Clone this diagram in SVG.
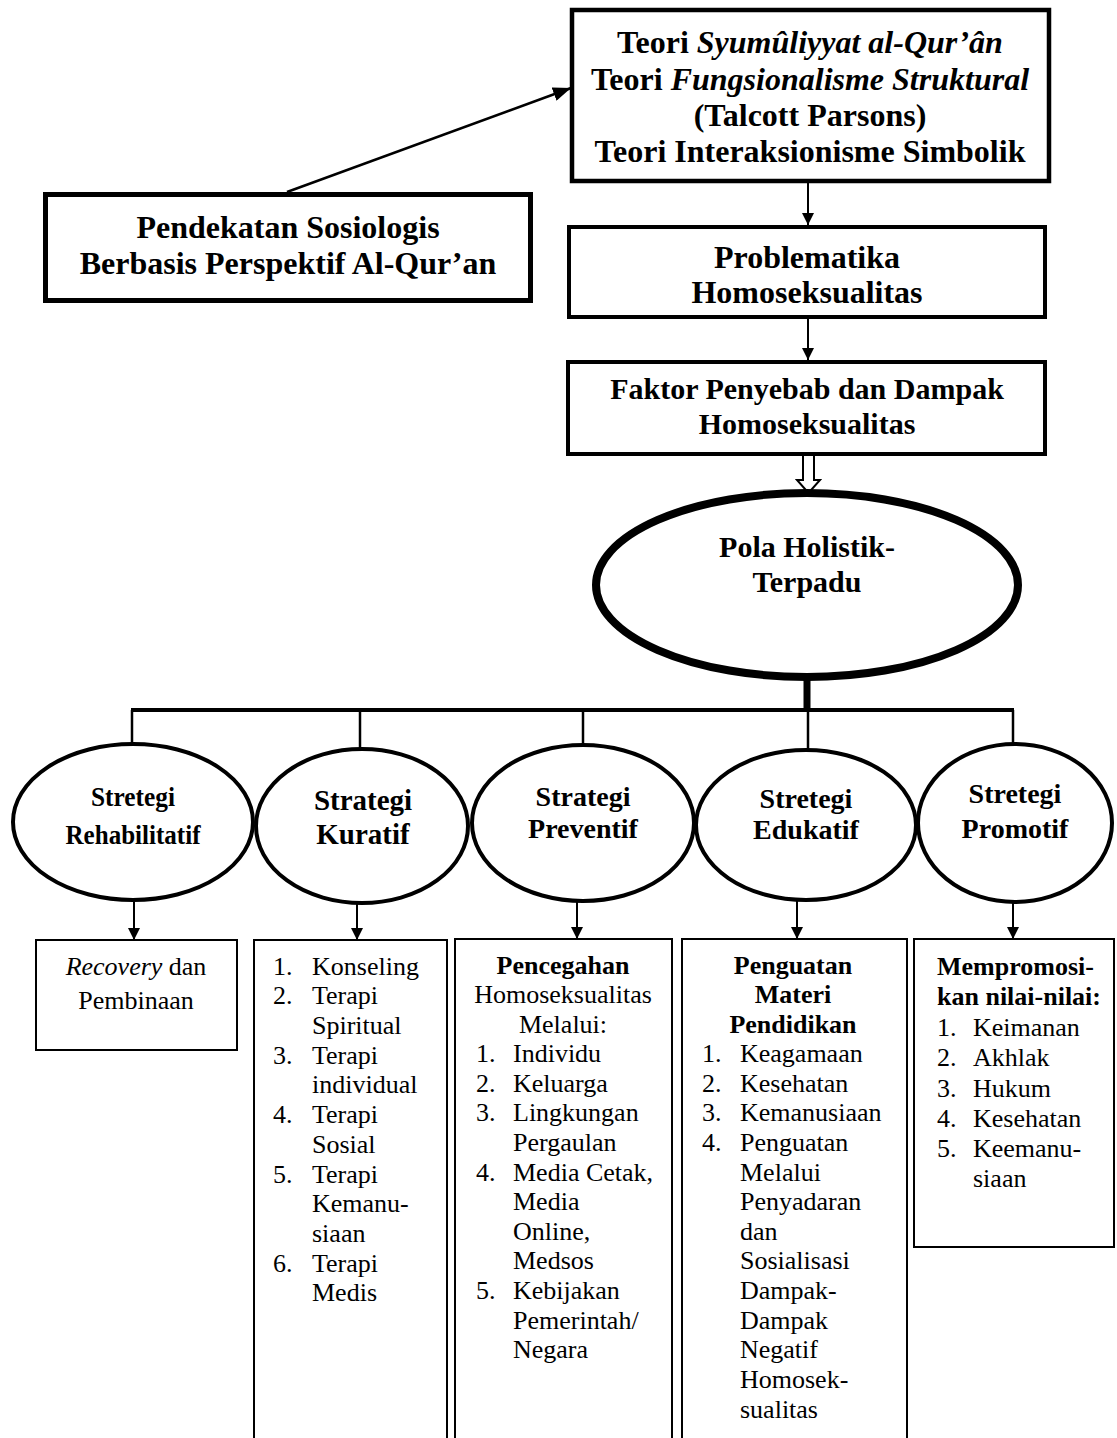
<svg xmlns="http://www.w3.org/2000/svg" width="1117" height="1438" viewBox="0 0 1117 1438">
<style>
.b{font-family:"Liberation Serif","Times New Roman",serif;font-weight:bold;fill:#000}
.r{font-family:"Liberation Serif","Times New Roman",serif;fill:#000}
.c{text-anchor:middle}
.i{font-style:italic}
.t32{font-size:32px}
.t30{font-size:30px}
.t28{font-size:28px}
.t29{font-size:29px}
.t26{font-size:26px}
.box{fill:#fff;stroke:#000}
.ln{stroke:#000;fill:none}
</style>
<defs>
<marker id="ah" viewBox="0 0 12 12" refX="12" refY="6" markerWidth="12" markerHeight="12" markerUnits="userSpaceOnUse" orient="auto"><path d="M0,0 L12,6 L0,12 z" fill="#000"/></marker>
<marker id="ahL" viewBox="0 0 18 14" refX="18" refY="7" markerWidth="18" markerHeight="14" markerUnits="userSpaceOnUse" orient="auto"><path d="M0,0 L18,7 L0,14 z" fill="#000"/></marker>
</defs>

<g id="connectors">
<line class="ln" x1="287" y1="192" x2="571" y2="88" stroke-width="2.5" marker-end="url(#ahL)"/>
<line class="ln" x1="808" y1="182" x2="808" y2="225" stroke-width="2" marker-end="url(#ah)"/>
<line class="ln" x1="808" y1="318" x2="808" y2="360" stroke-width="2" marker-end="url(#ah)"/>
<path d="M803,455 V480 H797 L808.5,493 L820,480 H814 V455" fill="#fff" stroke="#000" stroke-width="2"/>
<line class="ln" x1="807" y1="677" x2="807" y2="711" stroke-width="7"/>
<line class="ln" x1="131" y1="710" x2="1014" y2="710" stroke-width="4"/>
<line class="ln" x1="132" y1="710" x2="132" y2="745" stroke-width="2.5"/>
<line class="ln" x1="360" y1="710" x2="360" y2="750" stroke-width="2.5"/>
<line class="ln" x1="583" y1="710" x2="583" y2="746" stroke-width="2.5"/>
<line class="ln" x1="808" y1="710" x2="808" y2="751" stroke-width="2.5"/>
<line class="ln" x1="1013" y1="710" x2="1013" y2="745" stroke-width="2.5"/>
<line class="ln" x1="134" y1="900" x2="134" y2="940" stroke-width="2" marker-end="url(#ah)"/>
<line class="ln" x1="357" y1="903" x2="357" y2="940" stroke-width="2" marker-end="url(#ah)"/>
<line class="ln" x1="577" y1="902" x2="577" y2="939" stroke-width="2" marker-end="url(#ah)"/>
<line class="ln" x1="797" y1="900" x2="797" y2="939" stroke-width="2" marker-end="url(#ah)"/>
<line class="ln" x1="1013" y1="903" x2="1013" y2="939" stroke-width="2" marker-end="url(#ah)"/>
</g>

<g id="teori">
<rect class="box" x="572" y="10" width="477" height="171" stroke-width="4.5"/>
<text class="b t32 c" x="810" y="53">Teori <tspan class="i">Syumûliyyat al-Qur’ân</tspan></text>
<text class="b t32 c" x="810" y="90">Teori <tspan class="i">Fungsionalisme Struktural</tspan></text>
<text class="b t32 c" x="810" y="126">(Talcott Parsons)</text>
<text class="b t32 c" x="810" y="162">Teori Interaksionisme Simbolik</text>
</g>

<g id="pendekatan">
<rect class="box" x="45.5" y="194.5" width="485" height="106" stroke-width="5"/>
<text class="b t32 c" x="288" y="238">Pendekatan Sosiologis</text>
<text class="b t32 c" x="288" y="274">Berbasis Perspektif Al-Qur’an</text>
</g>

<g id="problematika">
<rect class="box" x="569" y="227" width="476" height="90" stroke-width="4"/>
<text class="b t32 c" x="807" y="268">Problematika</text>
<text class="b t32 c" x="807" y="303">Homoseksualitas</text>
</g>

<g id="faktor">
<rect class="box" x="568" y="362" width="477" height="92" stroke-width="4"/>
<text class="b t30 c" x="807" y="399">Faktor Penyebab dan Dampak</text>
<text class="b t30 c" x="807" y="434">Homoseksualitas</text>
</g>

<g id="pola">
<ellipse class="box" cx="807" cy="585" rx="211" ry="92" stroke-width="8"/>
<text class="b t30 c" x="807" y="557">Pola Holistik-</text>
<text class="b t30 c" x="807" y="592">Terpadu</text>
</g>

<g id="s-rehabilitatif">
<ellipse class="box" cx="133" cy="822" rx="120" ry="78" stroke-width="4"/>
<text class="b t28 c" x="133" y="806" textLength="84" lengthAdjust="spacingAndGlyphs">Stretegi</text>
<text class="b t28 c" x="133" y="844" textLength="135" lengthAdjust="spacingAndGlyphs">Rehabilitatif</text>
</g>
<g id="s-kuratif">
<ellipse class="box" cx="362" cy="826" rx="106" ry="77" stroke-width="4"/>
<text class="b t29 c" x="363" y="810">Strategi</text>
<text class="b t29 c" x="363" y="844">Kuratif</text>
</g>
<g id="s-preventif">
<ellipse class="box" cx="583" cy="823" rx="111" ry="78" stroke-width="4"/>
<text class="b t28 c" x="583" y="806">Strategi</text>
<text class="b t28 c" x="583" y="838">Preventif</text>
</g>
<g id="s-edukatif">
<ellipse class="box" cx="806" cy="825" rx="110" ry="75" stroke-width="4"/>
<text class="b t28 c" x="806" y="808">Stretegi</text>
<text class="b t28 c" x="806" y="839">Edukatif</text>
</g>
<g id="s-promotif">
<ellipse class="box" cx="1015" cy="823" rx="97" ry="79" stroke-width="4"/>
<text class="b t28 c" x="1015" y="803">Stretegi</text>
<text class="b t28 c" x="1015" y="838">Promotif</text>
</g>

<g id="b-rehabilitatif">
<rect class="box" x="36" y="940" width="201" height="110" stroke-width="2"/>
<text class="r t26 c" x="136" y="975"><tspan class="i">Recovery</tspan> dan</text>
<text class="r t26 c" x="136" y="1009">Pembinaan</text>
</g>

<g id="b-kuratif" class="r t26">
<rect class="box" x="254" y="940" width="193" height="510" stroke-width="2"/>
<text x="273" y="975">1.</text><text x="312" y="975">Konseling</text>
<text x="273" y="1004">2.</text><text x="312" y="1004">Terapi</text>
<text x="312" y="1034">Spiritual</text>
<text x="273" y="1064">3.</text><text x="312" y="1064">Terapi</text>
<text x="312" y="1093">individual</text>
<text x="273" y="1123">4.</text><text x="312" y="1123">Terapi</text>
<text x="312" y="1153">Sosial</text>
<text x="273" y="1183">5.</text><text x="312" y="1183">Terapi</text>
<text x="312" y="1212">Kemanu-</text>
<text x="312" y="1242">siaan</text>
<text x="273" y="1272">6.</text><text x="312" y="1272">Terapi</text>
<text x="312" y="1301">Medis</text>
</g>

<g id="b-preventif" class="r t26">
<rect class="box" x="455" y="939" width="217" height="511" stroke-width="2"/>
<text class="b c" x="563" y="974">Pencegahan</text>
<text class="c" x="563" y="1003">Homoseksualitas</text>
<text class="c" x="563" y="1033">Melalui:</text>
<text x="476" y="1062">1.</text><text x="513" y="1062">Individu</text>
<text x="476" y="1092">2.</text><text x="513" y="1092">Keluarga</text>
<text x="476" y="1121">3.</text><text x="513" y="1121">Lingkungan</text>
<text x="513" y="1151">Pergaulan</text>
<text x="476" y="1181">4.</text><text x="513" y="1181">Media Cetak,</text>
<text x="513" y="1210">Media</text>
<text x="513" y="1240">Online,</text>
<text x="513" y="1269">Medsos</text>
<text x="476" y="1299">5.</text><text x="513" y="1299">Kebijakan</text>
<text x="513" y="1329">Pemerintah/</text>
<text x="513" y="1358">Negara</text>
</g>

<g id="b-edukatif" class="r t26">
<rect class="box" x="682" y="939" width="225" height="511" stroke-width="2"/>
<text class="b c" x="793" y="974">Penguatan</text>
<text class="b c" x="793" y="1003">Materi</text>
<text class="b c" x="793" y="1033">Pendidikan</text>
<text x="702" y="1062">1.</text><text x="740" y="1062">Keagamaan</text>
<text x="702" y="1092">2.</text><text x="740" y="1092">Kesehatan</text>
<text x="702" y="1121">3.</text><text x="740" y="1121">Kemanusiaan</text>
<text x="702" y="1151">4.</text><text x="740" y="1151">Penguatan</text>
<text x="740" y="1181">Melalui</text>
<text x="740" y="1210">Penyadaran</text>
<text x="740" y="1240">dan</text>
<text x="740" y="1269">Sosialisasi</text>
<text x="740" y="1299">Dampak-</text>
<text x="740" y="1329">Dampak</text>
<text x="740" y="1358">Negatif</text>
<text x="740" y="1388">Homosek-</text>
<text x="740" y="1418">sualitas</text>
</g>

<g id="b-promotif" class="r t26">
<rect class="box" x="914" y="939" width="200" height="308" stroke-width="2"/>
<text class="b" x="937" y="975">Mempromosi-</text>
<text class="b" x="937" y="1005">kan nilai-nilai:</text>
<text x="937" y="1036">1.</text><text x="973" y="1036">Keimanan</text>
<text x="937" y="1066">2.</text><text x="973" y="1066">Akhlak</text>
<text x="937" y="1097">3.</text><text x="973" y="1097">Hukum</text>
<text x="937" y="1127">4.</text><text x="973" y="1127">Kesehatan</text>
<text x="937" y="1157">5.</text><text x="973" y="1157">Keemanu-</text>
<text x="973" y="1187">siaan</text>
</g>
</svg>
